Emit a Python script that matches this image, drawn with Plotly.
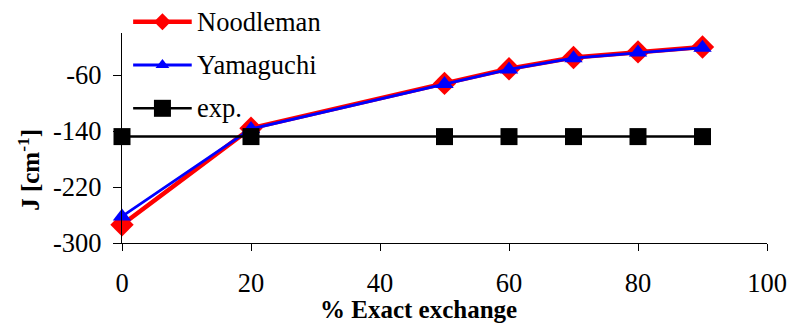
import plotly.graph_objects as go

# Exchange-coupling constant J versus amount of exact exchange
exact_exchange = [0, 20, 50, 60, 70, 80, 90]
j_noodleman = [-274, -136, -72, -51, -35, -27, -20]
j_yamaguchi = [-262, -137, -73, -52, -36, -28, -21]
j_experiment = [-148, -148, -148, -148, -148, -148, -148]

x_ticks = [0, 20, 40, 60, 80, 100]
y_ticks = [-300, -220, -140, -60]
y_tick_text = ["-300", "-220", "-140", "-60"]

FONT = "Liberation Serif, Times New Roman, serif"
RED, BLUE, BLACK = "#FF0000", "#0000FF", "#000000"

# Figure geometry (pixels)
W, H = 797, 323
M_L, M_R, M_T, M_B = 122, 21, 10, 80
AX_TOP = 33                      # top of the data axes
AREA_H = H - M_T - M_B           # height of the full plotting area
AREA_W = W - M_L - M_R
Y_DOMAIN_TOP = (H - M_B - AX_TOP) / AREA_H


def px_x(px):
    return (px - M_L) / AREA_W


def px_y(py):
    return (H - M_B - py) / AREA_H


series = [
    dict(name="Noodleman", y=j_noodleman, color=RED, width=4.5,
         symbol="diamond", size=18, key_size=13, key_row=21.7),
    dict(name="Yamaguchi", y=j_yamaguchi, color=BLUE, width=2.8,
         symbol="triangle-up", size=16, key_size=12, key_row=65),
    dict(name="exp.", y=j_experiment, color=BLACK, width=2.5,
         symbol="square", size=17, key_size=17, key_row=108.3),
]

fig = go.Figure()
for s in series:
    fig.add_trace(go.Scatter(
        x=exact_exchange, y=s["y"], mode="lines+markers", name=s["name"],
        line=dict(color=s["color"], width=s["width"]),
        marker=dict(symbol=s["symbol"], size=s["size"], color=s["color"],
                    line=dict(width=0)),
        cliponaxis=False, showlegend=False,
    ))

# Hand-built key in the upper-left corner, on a full-area helper axis pair
key_x0, key_xm, key_x1, key_text_x = px_x(133.3), px_x(163), px_x(192.7), px_x(196)
for s in series:
    ky = px_y(s["key_row"])
    fig.add_trace(go.Scatter(
        x=[key_x0, key_x1], y=[ky, ky], mode="lines",
        line=dict(color=s["color"], width=s["width"]),
        xaxis="x2", yaxis="y2", cliponaxis=False, showlegend=False,
        hoverinfo="skip",
    ))
    fig.add_trace(go.Scatter(
        x=[key_xm], y=[ky], mode="markers",
        marker=dict(symbol=s["symbol"], size=s["key_size"], color=s["color"],
                    line=dict(width=0)),
        xaxis="x2", yaxis="y2", cliponaxis=False, showlegend=False,
        hoverinfo="skip",
    ))
    fig.add_annotation(
        x=key_text_x, y=ky, xref="paper", yref="paper", text=s["name"],
        showarrow=False, xanchor="left", yanchor="middle",
        font=dict(family=FONT, size=26.5, color=BLACK),
    )

# Axis titles
fig.add_annotation(
    x=px_x(423), y=px_y(309), xref="paper", yref="paper",
    text="<b>% Exact exchange</b>",
    showarrow=False, xanchor="center", yanchor="middle",
    font=dict(family=FONT, size=25, color=BLACK),
)
fig.add_annotation(
    x=px_x(27.5), y=px_y(170), xref="paper", yref="paper",
    text="<b>J [cm<sup>-1</sup>]</b>", textangle=-90,
    showarrow=False, xanchor="center", yanchor="middle",
    font=dict(family=FONT, size=25, color=BLACK),
)

axis_common = dict(
    showgrid=False, zeroline=False, showline=True, linecolor=BLACK,
    linewidth=1.3, ticks="outside", tickcolor=BLACK, tickwidth=1.3,
    tickfont=dict(family=FONT, size=26.5, color=BLACK),
)

fig.update_layout(
    width=W, height=H,
    margin=dict(l=M_L, r=M_R, t=M_T, b=M_B),
    paper_bgcolor="white", plot_bgcolor="rgba(0,0,0,0)",
    xaxis=dict(range=[0, 100], tickvals=x_ticks, ticklen=7,
               ticklabelstandoff=9, **axis_common),
    yaxis=dict(range=[-300, 0], tickvals=y_ticks, ticktext=y_tick_text,
               ticklen=8, ticklabelstandoff=6, domain=[0, Y_DOMAIN_TOP],
               **axis_common),
    xaxis2=dict(domain=[0, 1], anchor="y2", range=[0, 1], visible=False),
    yaxis2=dict(domain=[0, 1], anchor="x2", range=[0, 1], visible=False),
    showlegend=False,
)

fig.write_html("out.html")
